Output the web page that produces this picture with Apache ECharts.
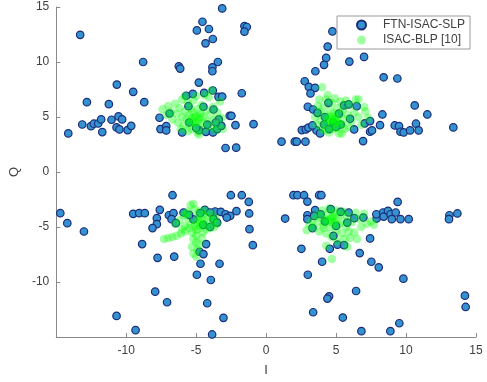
<!DOCTYPE html>
<html><head><meta charset="utf-8">
<script src="https://cdn.jsdelivr.net/npm/echarts@6/dist/echarts.min.js"></script>
<style>html,body{margin:0;padding:0;background:#fff}#c{width:487px;height:382px}</style>
</head><body><div id="c"></div>
<script>
const seriesNames = ['FTN-ISAC-SLP', 'ISAC-BLP [10]'];
const xTicks = [-15, -10, -5, 0, 5, 10, 15];
const yTicks = [-15, -10, -5, 0, 5, 10, 15];

const ftnUpperLeft = [[-13.29,12.47],[-8.79,10.0],[-10.67,7.95],[-9.5,7.29],[-12.81,6.35],[-11.24,6.17],[-8.71,6.35],[-14.14,3.51],[-13.14,4.32],[-12.52,4.17],[-12.31,4.39],[-12.0,4.41],[-11.79,4.78],[-11.71,3.63],[-11.05,4.75],[-10.55,5.05],[-10.29,4.78],[-10.69,4.05],[-10.48,3.87],[-9.9,3.81],[-9.64,4.2],[-7.62,4.93],[-7.55,3.9],
[-3.14,14.87],[-4.55,13.66],[-4.95,12.87],[-4.09,13.0],[-3.81,12.09],[-4.33,11.7],[-1.55,13.27],[-1.38,13.18],[-1.55,12.76],[-6.24,9.61],[-6.14,9.4],[-3.45,10.0],[-3.84,9.52],[-3.84,9.16],[-4.81,8.13],[-1.74,7.16],[-5.71,6.93],[-5.24,7.1],[-4.43,7.2],[-3.81,7.41],[-3.4,6.83],[-3.14,6.86],[-6.9,5.32],[-7.14,4.17],[-7.14,3.78],[-6.0,3.6],[-4.48,5.93],[-3.76,5.68],[-3.38,4.78],[-2.6,5.11],[-2.48,5.11],[-2.19,4.26],[-0.9,4.35],[-2.9,2.18],[-2.14,2.21],[-5.55,5.98],[-4.8,3.8],[-4.3,3.65],[-3.8,3.6],[-3.5,3.9],[-3.2,4.2],[-3.6,4.5],[-5.5,4.5],[-5.0,4.0],[-4.2,4.3]];
const ftnUpperRight = [[4.74,12.78],[4.4,11.4],[4.29,10.37],[4.14,9.74],[5.95,10.04],[7.0,10.46],[3.52,9.16],[2.76,8.25],[3.05,7.74],[3.5,7.65],[3.17,7.14],[2.98,5.93],[3.36,5.68],[3.67,5.38],[4.45,6.29],[5.57,6.05],[5.9,6.14],[6.48,5.98],[6.0,4.84],[6.29,3.87],[7.05,4.42],[7.43,4.63],[7.43,3.66],[6.93,2.81],[2.55,3.81],[2.84,3.87],[3.02,4.03],[3.6,3.78],[3.86,3.51],[3.31,4.23],[4.14,4.32],[5.33,4.32],[1.1,2.76],[2.05,2.76],[2.19,2.76],[2.81,2.76],[8.4,8.61],[9.38,8.5],[10.62,6.05],[11.52,5.23],[8.31,5.23],[8.14,4.26],[7.57,3.78],[9.19,4.23],[9.5,4.17],[9.6,3.66],[9.83,3.6],[10.29,3.78],[10.71,4.39],[10.9,3.78],[13.38,4.05],[4.2,5.0],[4.8,4.5],[5.2,5.3],[4.5,3.9],[5.0,4.1]];
const ftnLowerLeft = [[-14.71,-3.74],[-14.21,-4.65],[-13.02,-5.41],[-9.5,-3.8],[-9.07,-3.74],[-8.67,-3.74],[-7.6,-3.44],[-7.81,-4.2],[-7.81,-4.74],[-8.12,-5.1],[-8.86,-6.55],[-7.76,-7.8],[-7.93,-10.88],[-10.69,-13.08],[-9.33,-14.38],[-7.08,-11.84],[-6.69,-2.11],[-2.52,-2.11],[-1.74,-2.11],[-1.24,-2.72],[-1.21,-3.77],[-1.19,-5.2],[-0.95,-6.65],[-6.95,-3.93],[-6.62,-3.74],[-6.76,-4.29],[-6.45,-4.65],[-6.57,-7.7],[-4.29,-6.55],[-4.76,-7.25],[-4.48,-7.46],[-4.69,-8.34],[-3.33,-8.34],[-4.95,-9.34],[-3.95,-9.82],[-4.21,-11.93],[-3.05,-13.26],[-3.86,-14.77],[-4.38,-3.44],[-3.64,-3.59],[-3.24,-3.62],[-2.9,-3.84],[-2.57,-3.99],[-2.12,-3.56],[-2.81,-4.14],[-4.0,-3.68],[-4.71,-3.74],[-3.76,-4.29],[-5.9,-3.68],[-5.2,-4.3],[-4.5,-4.8],[-4.0,-5.0],[-5.5,-3.9],[-3.5,-4.6]];
const ftnLowerRight = [[1.95,-2.11],[2.24,-2.11],[2.71,-2.11],[3.79,-2.11],[3.95,-2.11],[2.95,-2.69],[1.36,-4.23],[2.95,-3.93],[2.95,-4.29],[3.5,-3.47],[3.31,-5.1],[5.9,-3.68],[6.95,-4.14],[7.9,-4.23],[7.43,-6.04],[2.52,-6.98],[4.55,-6.98],[4.0,-8.16],[6.69,-7.37],[7.52,-8.16],[2.98,-9.34],[4.5,-11.3],[4.38,-11.51],[6.43,-10.82],[3.36,-12.75],[5.48,-13.23],[6.81,-14.47],[4.81,-5.8],[5.1,-6.61],[5.57,-6.65],[4.62,-3.38],[5.33,-3.62],[3.9,-3.84],[3.43,-3.99],[9.4,-2.72],[7.88,-3.84],[8.36,-3.68],[8.4,-4.05],[8.71,-3.53],[8.9,-3.84],[9.26,-3.68],[8.98,-4.29],[9.6,-4.29],[10.19,-4.29],[13.1,-3.93],[13.07,-4.29],[13.67,-3.77],[8.05,-8.67],[9.81,-9.7],[14.21,-11.24],[14.26,-12.27],[9.52,-13.75],[8.88,-14.47],[4.2,-4.5],[5.0,-4.9],[5.8,-4.6],[6.3,-4.2]];

const blpUpperLeft = [[-7.4,5.7],[-7.1,5.2],[-7.0,6.0],[-6.8,5.5],[-6.7,4.8],[-6.5,6.2],[-6.4,5.3],[-6.3,4.5],[-6.2,5.8],[-6.0,6.6],[-6.0,5.0],[-5.9,4.2],[-5.8,6.9],[-5.8,5.5],[-5.7,4.8],[-5.6,6.3],[-5.5,5.2],[-5.5,4.4],[-5.4,5.8],[-5.3,4.9],[-5.3,3.9],[-5.2,6.5],[-5.2,5.4],[-5.1,4.6],[-5.0,5.1],[-5.0,4.2],[-4.9,5.7],[-4.9,3.6],[-4.8,4.8],[-4.8,3.4],[-4.7,5.3],[-4.6,4.4],[-4.6,6.1],[-4.5,5.0],[-4.4,3.9],[-4.3,5.6],[-4.2,4.6],[-4.1,6.8],[-4.0,5.2],[-3.9,7.4],[-3.9,4.1],[-3.8,5.9],[-3.7,4.7],[-3.6,3.8],[-3.5,5.4],[-3.4,4.3],[-3.3,6.4],[-3.2,4.9],[-3.1,3.9],[-5.6,3.7],[-6.1,3.9],[-4.4,7.0],[-5.0,6.9],[-5.1,5.0],[-4.9,4.5],[-5.3,4.6],[-4.7,5.0]];
const blpUpperRight = [[3.5,5.0],[3.6,4.3],[3.7,6.0],[3.8,5.5],[3.9,4.7],[4.0,7.7],[4.0,3.9],[4.1,5.9],[4.2,5.2],[4.3,4.4],[4.3,6.6],[4.4,7.0],[4.5,5.0],[4.5,3.6],[4.6,5.6],[4.6,4.2],[4.7,6.3],[4.7,4.8],[4.8,5.3],[4.8,3.9],[4.9,4.5],[4.9,6.7],[5.0,5.1],[5.0,4.0],[5.1,5.8],[5.1,4.6],[5.2,3.5],[5.3,5.3],[5.3,6.4],[5.4,4.3],[5.4,3.5],[5.5,5.7],[5.6,4.8],[5.7,6.5],[5.8,5.2],[5.9,4.1],[6.0,6.1],[6.1,4.6],[6.3,5.4],[6.4,6.6],[6.6,5.0],[6.6,6.6],[6.8,4.3],[7.0,5.9],[7.1,5.5],[7.3,4.9],[4.2,3.8],[5.6,3.9],[3.8,6.6],[4.4,4.7],[5.2,4.4],[4.7,5.0],[4.9,4.8],[4.6,4.6],[5.0,4.7]];
const blpLowerLeft = [[-7.3,-6.1],[-7.0,-6.0],[-6.7,-5.9],[-6.4,-5.8],[-6.1,-5.6],[-5.8,-5.4],[-6.5,-4.7],[-6.2,-4.4],[-5.9,-3.9],[-5.6,-3.6],[-5.4,-3.0],[-5.2,-2.9],[-5.1,-3.4],[-5.6,-4.2],[-5.4,-4.8],[-5.3,-5.5],[-5.2,-6.1],[-5.3,-6.8],[-5.2,-7.4],[-5.0,-7.7],[-4.9,-7.1],[-5.0,-6.4],[-5.0,-5.8],[-4.9,-5.2],[-5.0,-4.6],[-4.9,-4.1],[-4.8,-3.6],[-4.7,-4.9],[-4.6,-4.3],[-4.5,-5.5],[-4.5,-3.9],[-4.4,-4.7],[-4.3,-5.2],[-4.2,-4.0],[-4.1,-4.5],[-4.0,-5.1],[-3.9,-3.8],[-3.8,-4.4],[-3.7,-5.0],[-3.6,-4.2],[-3.5,-4.7],[-5.8,-4.9],[-6.0,-5.2],[-5.5,-5.1],[-4.6,-6.0],[-4.4,-3.5],[-5.7,-3.8],[-4.8,-6.6],[-4.8,-4.4],[-5.1,-4.9],[-4.6,-4.7],[-5.0,-5.3]];
const blpLowerRight = [[2.9,-5.3],[3.1,-4.8],[3.3,-4.4],[3.4,-5.1],[3.6,-3.9],[3.7,-4.6],[3.8,-5.4],[3.9,-4.1],[4.0,-3.5],[4.1,-4.8],[4.2,-4.3],[4.3,-5.6],[4.4,-3.8],[4.5,-4.5],[4.5,-3.3],[4.6,-5.0],[4.7,-4.1],[4.7,-5.9],[4.8,-4.7],[4.9,-3.7],[5.0,-5.3],[5.0,-4.3],[5.1,-6.3],[5.2,-4.8],[5.3,-3.9],[5.4,-5.6],[5.5,-4.5],[5.6,-6.1],[5.7,-5.0],[5.8,-4.0],[5.9,-5.4],[6.0,-6.0],[6.1,-4.6],[6.3,-5.5],[6.4,-3.7],[6.5,-6.1],[6.7,-4.3],[6.8,-5.0],[7.0,-3.8],[7.2,-4.7],[7.5,-4.5],[7.7,-4.8],[4.7,-7.9],[5.8,-6.8],[4.3,-6.7],[5.0,-3.5],[4.1,-5.1],[5.5,-3.6],[4.6,-4.3],[4.8,-4.1],[4.4,-4.4],[4.9,-4.5]];

const ftnData = ftnUpperLeft.concat(ftnUpperRight, ftnLowerLeft, ftnLowerRight);
const blpData = blpUpperLeft.concat(blpUpperRight, blpLowerLeft, blpLowerRight);

const FONT = '"Liberation Sans", Arial, Helvetica, sans-serif';
const axisColor = '#8a8a8a';
const textColor = '#404040';

const chart = echarts.init(document.getElementById('c'), null, {renderer: 'canvas'});
chart.setOption({
  animation: false,
  backgroundColor: '#ffffff',
  grid: {left: 56, right: 11, top: 7, bottom: 45, containLabel: false},
  xAxis: {
    type: 'value', min: xTicks[0], max: xTicks[xTicks.length - 1], interval: 5,
    name: 'I', nameLocation: 'middle', nameGap: 27,
    nameTextStyle: {color: textColor, fontSize: 13, fontFamily: FONT},
    axisLine: {show: true, onZero: false, lineStyle: {color: axisColor, width: 1}},
    axisTick: {show: true, inside: true, length: 4, lineStyle: {color: axisColor}},
    axisLabel: {color: textColor, fontSize: 12, fontFamily: FONT, margin: 8, showMinLabel: false},
    splitLine: {show: false}
  },
  yAxis: {
    type: 'value', min: yTicks[0], max: yTicks[yTicks.length - 1], interval: 5,
    name: 'Q', nameLocation: 'middle', nameGap: 26, nameRotate: 90,
    nameTextStyle: {color: textColor, fontSize: 13, fontFamily: FONT},
    axisLine: {show: true, onZero: false, lineStyle: {color: axisColor, width: 1}},
    axisTick: {show: true, inside: true, length: 4, lineStyle: {color: axisColor}},
    axisLabel: {color: textColor, fontSize: 12, fontFamily: FONT, margin: 7, showMinLabel: false},
    splitLine: {show: false}
  },
  legend: {
    orient: 'vertical', left: 337, top: 16,
    padding: [3, 5, 3, 19], itemGap: 3,
    itemWidth: 9, itemHeight: 9,
    backgroundColor: '#ffffff', borderColor: '#9a9a9a', borderWidth: 1,
    textStyle: {color: textColor, fontSize: 12, fontFamily: FONT, padding: [0, 0, 0, 12]},
    data: seriesNames
  },
  series: [
    {
      name: seriesNames[0], type: 'scatter', data: ftnData,
      symbol: 'circle', symbolSize: 7.5,
      itemStyle: {color: '#3492D0', borderColor: '#1C2C78', borderWidth: 1.2, opacity: 1}
    },
    {
      name: seriesNames[1], type: 'scatter', data: blpData,
      symbol: 'circle', symbolSize: 8.5,
      itemStyle: {color: 'rgba(0,255,0,0.45)', borderWidth: 0}
    }
  ]
});
</script></body></html>
